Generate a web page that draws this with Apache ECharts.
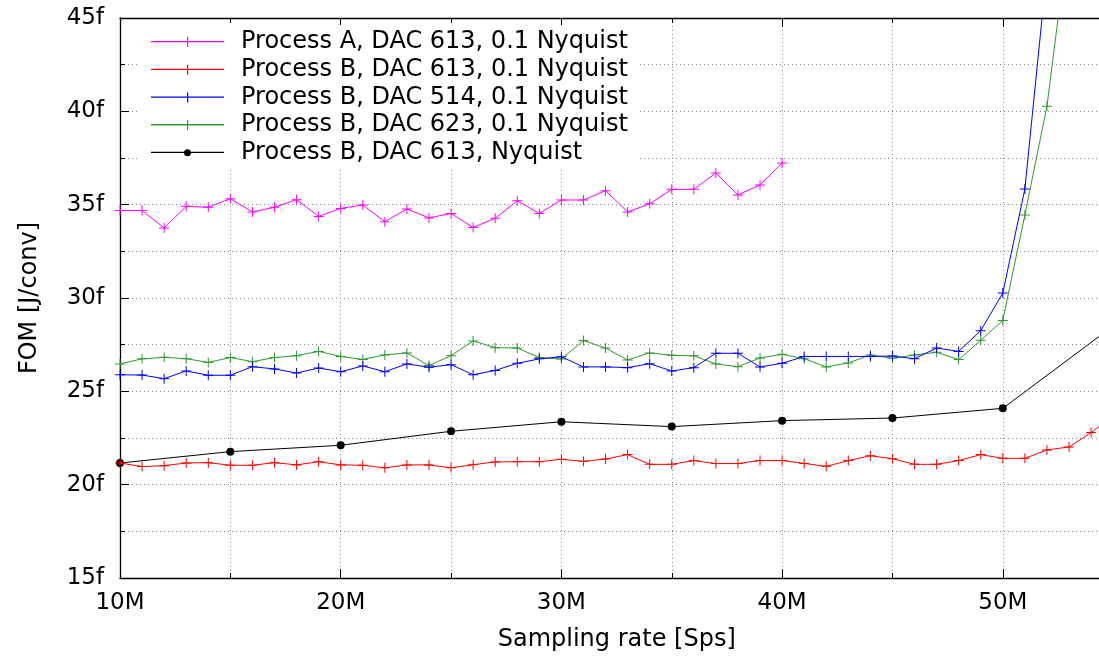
<!DOCTYPE html>
<html>
<head>
<meta charset="utf-8">
<script src="https://cdn.jsdelivr.net/npm/echarts@6/dist/echarts.min.js"></script>
<style>html,body{margin:0;padding:0;background:#fff}#c{width:1099px;height:662px}</style>
</head>
<body>
<div id="c"></div>
<script>
// Sampling rates (M samples/s)
const xMagenta = [10,11,12,13,14,15,16,17,18,19,20,21,22,23,24,25,26,27,28,29,30,31,32,33,34,35,36,37,38,39,40];
const yMagenta = [34.69,34.69,33.75,34.91,34.86,35.32,34.61,34.86,35.27,34.37,34.80,34.98,34.09,34.77,34.29,34.53,33.78,34.27,35.21,34.53,35.25,35.25,35.75,34.61,35.05,35.82,35.82,36.70,35.52,36.06,37.23];

const xRed = [10,11,12,13,14,15,16,17,18,19,20,21,22,23,24,25,26,27,28,29,30,31,32,33,34,35,36,37,38,39,40,41,42,43,44,45,46,47,48,49,50,51,52,53,54,55];
const yRed = [21.16,20.97,21.02,21.16,21.18,21.04,21.04,21.18,21.06,21.23,21.06,21.04,20.90,21.06,21.06,20.90,21.07,21.22,21.23,21.23,21.36,21.25,21.37,21.61,21.09,21.09,21.29,21.13,21.13,21.29,21.29,21.14,20.98,21.29,21.55,21.39,21.09,21.09,21.29,21.61,21.41,21.41,21.86,22.02,22.79,23.70];

const xBlue = [10,11,12,13,14,15,16,17,18,19,20,21,22,23,24,25,26,27,28,29,30,31,32,33,34,35,36,37,38,39,40,41,42,43,44,45,46,47,48,49,50,51,52];
const yBlue = [25.89,25.87,25.68,26.09,25.86,25.86,26.32,26.20,25.98,26.25,26.05,26.36,26.05,26.47,26.29,26.43,25.89,26.12,26.50,26.74,26.85,26.31,26.31,26.27,26.48,26.09,26.27,27.04,27.04,26.31,26.50,26.87,26.87,26.87,26.87,26.89,26.75,27.32,27.14,28.25,30.27,35.84,47.6];

const xGreen = [10,11,12,13,14,15,16,17,18,19,20,21,22,23,24,25,26,27,28,29,30,31,32,33,34,35,36,37,38,39,40,41,42,43,44,45,46,47,48,49,50,51,52,53];
const yGreen = [26.47,26.74,26.82,26.75,26.55,26.81,26.59,26.81,26.91,27.14,26.87,26.71,26.95,27.06,26.38,26.91,27.70,27.34,27.32,26.81,26.73,27.72,27.32,26.68,27.06,26.93,26.90,26.47,26.32,26.79,26.98,26.75,26.31,26.52,26.95,26.77,26.95,27.09,26.70,27.73,28.80,34.45,40.27,49.6];

const xBlack = [10,15,20,25,30,35,40,45,50,55];
const yBlack = [21.16,21.77,22.11,22.86,23.37,23.11,23.43,23.57,24.09,28.5];

const seriesNames = [
  'Process A, DAC 613, 0.1 Nyquist',
  'Process B, DAC 613, 0.1 Nyquist',
  'Process B, DAC 514, 0.1 Nyquist',
  'Process B, DAC 623, 0.1 Nyquist',
  'Process B, DAC 613, Nyquist'
];
const colors = ['#ff00ff', '#ff0000', '#0000ff', '#2e9a2e', '#000000'];

const FONT = 'DejaVu Sans';
const plusSym = 'path://M4.5,0H5.5V4.5H10V5.5H5.5V10H4.5V5.5H0V4.5H4.5Z';
const plusIcon = 'path://M0,4H73V5.3H0Z M36,0H37.2V10H36Z';
const dotIcon = 'path://M0,4H73V5.3H0Z M40,5A3.5,3.5 0 1,1 33,5A3.5,3.5 0 1,1 40,5Z';

function pairs(xs, ys) { return xs.map((x, i) => [x, ys[i]]); }

const allX = [xMagenta, xRed, xBlue, xGreen, xBlack];
const allY = [yMagenta, yRed, yBlue, yGreen, yBlack];

const series = seriesNames.map((name, i) => ({
  name: name,
  type: 'line',
  data: pairs(allX[i], allY[i]),
  symbol: i === 4 ? 'circle' : plusSym,
  symbolSize: i === 4 ? 8 : 10,
  showAllSymbol: true,
  clip: true,
  color: colors[i],
  lineStyle: { color: colors[i], width: 1 },
  itemStyle: { color: colors[i], borderWidth: 0 },
  emphasis: { disabled: true },
  z: 2 + (4 - i)
}));

const gridLine = { show: true, lineStyle: { color: '#8a8a8a', width: 1, type: [1, 3] } };
const axisLine = { show: true, onZero: false, lineStyle: { color: '#000', width: 1.3 } };

const chart = echarts.init(document.getElementById('c'), null, { renderer: 'canvas' });
chart.setOption({
  animation: false,
  backgroundColor: '#fff',
  color: colors,
  textStyle: { fontFamily: FONT },
  grid: { left: 120, top: 18, bottom: 84, right: -124.5, containLabel: false, outerBoundsMode: 'none' },
  legend: {
    orient: 'vertical',
    left: 137,
    top: 25,
    padding: [5, 10, 2, 14],
    backgroundColor: '#fff',
    itemWidth: 73,
    itemHeight: 10,
    itemGap: 3.7,
    selectedMode: false,
    textStyle: { fontFamily: FONT, fontSize: 24, color: '#000', lineHeight: 24, height: 24, padding: [0, 0, 0, 12] },
    data: seriesNames.map((n, i) => ({
      name: n,
      icon: i === 4 ? dotIcon : plusIcon,
      itemStyle: { color: colors[i], borderWidth: 0, borderColor: colors[i] }
    }))
  },
  xAxis: [
    {
      type: 'value', position: 'bottom', min: 10, max: 60, interval: 10,
      name: 'Sampling rate [Sps]', nameLocation: 'middle', nameGap: 50,
      nameTextStyle: { fontFamily: FONT, fontSize: 24, color: '#000', padding: [0, 110, 0, 0] },
      axisLine: axisLine,
      axisTick: { show: true, inside: true, length: 9, lineStyle: { color: '#000', width: 1 } },
      minorTick: { show: true, splitNumber: 2, length: 5, lineStyle: { color: '#000', width: 1 } },
      splitLine: gridLine,
      minorSplitLine: gridLine,
      axisLabel: { fontFamily: FONT, fontSize: 23, color: '#000', margin: 14, formatter: v => v + 'M' }
    },
    {
      type: 'value', position: 'top', min: 10, max: 60, interval: 10,
      axisLine: axisLine,
      axisTick: { show: true, inside: true, length: 9, lineStyle: { color: '#000', width: 1 } },
      minorTick: { show: true, splitNumber: 2, length: 5, lineStyle: { color: '#000', width: 1 } },
      splitLine: { show: false },
      axisLabel: { show: false }
    }
  ],
  yAxis: [
    {
      type: 'value', position: 'left', min: 15, max: 45, interval: 5,
      name: 'FOM [J/conv]', nameLocation: 'middle', nameGap: 78,
      nameTextStyle: { fontFamily: FONT, fontSize: 24, color: '#000' },
      axisLine: axisLine,
      axisTick: { show: true, inside: true, length: 9, lineStyle: { color: '#000', width: 1 } },
      minorTick: { show: true, splitNumber: 2, length: 5, lineStyle: { color: '#000', width: 1 } },
      splitLine: gridLine,
      minorSplitLine: gridLine,
      axisLabel: { fontFamily: FONT, fontSize: 23, color: '#000', margin: 16, formatter: v => v + 'f' }
    }
  ],
  series: series
});
</script>
</body>
</html>
